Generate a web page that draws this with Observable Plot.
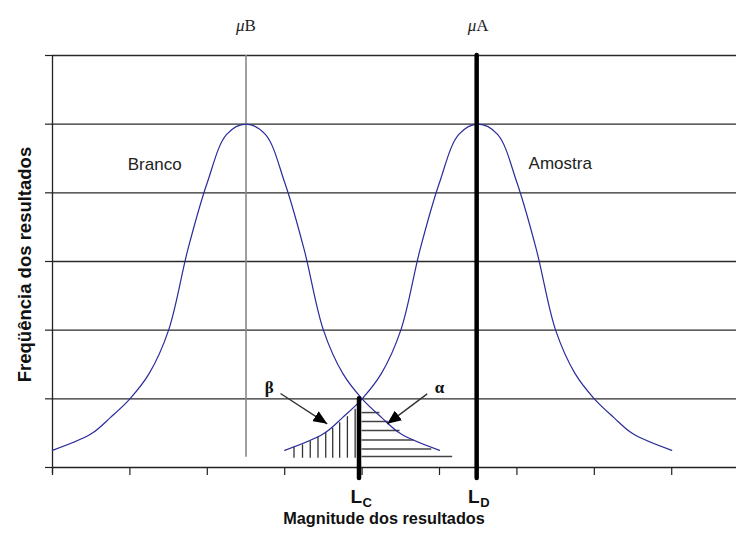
<!DOCTYPE html>
<html><head><meta charset="utf-8">
<script src="https://cdn.jsdelivr.net/npm/d3@7"></script>
<script src="https://cdn.jsdelivr.net/npm/@observablehq/plot@0.6"></script>
<style>body{margin:0;background:#fff}</style>
</head><body><div id="chart"></div>
<script>
// Curve data
const brancoX = [0, 0.5, 0.75, 1.0, 1.25, 1.5, 1.75, 2.0, 2.25, 2.5, 2.75, 3.0, 3.25, 3.5, 3.75, 4.0, 4.25, 4.5, 5.0];
const brancoY = [0.25, 0.49, 0.73, 1.0, 1.37, 2.0, 3.18, 4.15, 4.85, 5.0, 4.85, 4.15, 3.18, 2.0, 1.37, 1.0, 0.73, 0.49, 0.25];
const amostraX = [3.0, 3.5, 3.75, 4.0, 4.25, 4.5, 4.75, 5.0, 5.25, 5.5, 5.75, 6.0, 6.25, 6.5, 6.75, 7.0, 7.25, 7.5, 8.0];
const amostraY = [0.25, 0.49, 0.73, 1.0, 1.37, 2.0, 3.18, 4.15, 4.85, 5.0, 4.85, 4.15, 3.18, 2.0, 1.37, 1.0, 0.73, 0.49, 0.25];

// Reference positions
const muB = 2.5, muA = 5.5, LC = 3.96, LD = 5.48;

// Hatching (beta: vertical, alpha: horizontal)
const betaX = [3.12, 3.23, 3.33, 3.43, 3.53, 3.62, 3.71, 3.81, 3.91];
const betaTop = [0.30, 0.33, 0.38, 0.44, 0.51, 0.57, 0.65, 0.74, 0.85];
const alphaY = [0.80, 0.67, 0.54, 0.40, 0.27, 0.16];
const alphaEnd = [4.23, 4.34, 4.49, 4.67, 4.90, 5.17];

// Axes
const xTicks = [0, 1, 2, 3, 4, 5, 6, 7, 8];
const yTicks = [0, 1, 2, 3, 4, 5, 6];
const gridY = [1, 2, 3, 4, 5, 6];

// Texts
const muLabels = ["\u03bcB", "\u03bcA"];
const muX = [muB, muA];
const curveNames = ["Branco", "Amostra"];
const curveNameX = [1.32, 6.56];
const curveNameY = [4.335, 4.35];
const greek = ["\u03b2", "\u03b1"];
const greekX = [2.8, 5.0];
const greekY = [1.09, 1.09];
const limitMain = ["L", "L"];
const limitSub = ["C", "D"];
const limitX = [LC, LD];
const xLabel = "Magnitude dos resultados";
const yLabel = "Freq\u00fc\u00eancia dos resultados";

// Arrows
const arrowX1 = [2.946, 4.841];
const arrowY1 = [1.078, 1.073];
const arrowX2 = [3.549, 4.324];
const arrowY2 = [0.636, 0.636];

function triMarker(color, context) {
  const doc = context.document;
  const ns = "http://www.w3.org/2000/svg";
  const m = doc.createElementNS(ns, "marker");
  m.setAttribute("viewBox", "0 -6 14 12");
  m.setAttribute("markerWidth", "14");
  m.setAttribute("markerHeight", "12");
  m.setAttribute("markerUnits", "userSpaceOnUse");
  m.setAttribute("refX", "14");
  m.setAttribute("refY", "0");
  m.setAttribute("orient", "auto");
  const p = doc.createElementNS(ns, "path");
  p.setAttribute("d", "M0,-6L14,0L0,6Z");
  p.setAttribute("fill", "#000");
  p.setAttribute("stroke", "none");
  m.appendChild(p);
  return m;
}

const blue = "#2b2b9c";

const chart = Plot.plot({
  width: 736, height: 533,
  marginLeft: 52, marginRight: 0, marginTop: 55, marginBottom: 66,
  x: {domain: [0, 8.837]},
  y: {domain: [0, 6]},
  style: {fontFamily: "Liberation Sans", background: "white", overflow: "visible"},
  marks: [
    Plot.ruleY(gridY, {stroke: "#2a2a2a", strokeWidth: 1.3}),
    Plot.axisX({ticks: xTicks, tickSize: 8, tickFormat: () => "", label: null, stroke: "#222", strokeWidth: 1.2}),
    Plot.axisY({ticks: yTicks, tickSize: 7, tickFormat: () => "", label: null, stroke: "#222", strokeWidth: 1.2}),
    Plot.ruleY([0], {stroke: "#222", strokeWidth: 1.3}),
    Plot.ruleX([0], {y1: -0.09, y2: 6, stroke: "#222", strokeWidth: 1.3}),
    Plot.ruleX(betaX, {x: d => d, y1: 0.135, y2: (d, i) => betaTop[i], stroke: "#333", strokeWidth: 1.3}),
    Plot.ruleY(alphaY, {y: d => d, x1: 4.0, x2: (d, i) => alphaEnd[i], stroke: "#444", strokeWidth: 1.5}),
    Plot.ruleX([muB], {y1: 0.15, y2: 6, stroke: "#888", strokeWidth: 1.6}),
    Plot.line(brancoX, {x: d => d, y: (d, i) => brancoY[i], curve: "catmull-rom", stroke: blue, strokeWidth: 1.2}),
    Plot.line(amostraX, {x: d => d, y: (d, i) => amostraY[i], curve: "catmull-rom", stroke: blue, strokeWidth: 1.2}),
    Plot.ruleX([LC], {y1: -0.16, y2: 1.0, stroke: "#000", strokeWidth: 4.5, strokeLinecap: "round"}),
    Plot.ruleX([LD], {y1: -0.16, y2: 6, stroke: "#000", strokeWidth: 4.5, strokeLinecap: "round"}),
    Plot.link(arrowX1, {x1: d => d, y1: (d, i) => arrowY1[i], x2: (d, i) => arrowX2[i], y2: (d, i) => arrowY2[i], stroke: "#333", strokeWidth: 1.4, markerEnd: triMarker}),
    Plot.text(muLabels, {x: (d, i) => muX[i], text: d => d, frameAnchor: "top", dy: -25, lineAnchor: "bottom", fontFamily: "Liberation Serif", fontSize: 17, fill: "#222"}),
    Plot.text(curveNames, {x: (d, i) => curveNameX[i], y: (d, i) => curveNameY[i], text: d => d, lineAnchor: "bottom", fontSize: 17, fill: "#222"}),
    Plot.text(greek, {x: (d, i) => greekX[i], y: (d, i) => greekY[i], text: d => d, lineAnchor: "bottom", fontFamily: "Liberation Serif", fontWeight: "bold", fontSize: 17, fill: "#111"}),
    Plot.text(limitMain, {x: (d, i) => limitX[i], text: d => d, frameAnchor: "bottom", dy: 35, dx: 3, textAnchor: "end", lineAnchor: "bottom", fontWeight: "bold", fontSize: 19, fill: "#111"}),
    Plot.text(limitSub, {x: (d, i) => limitX[i], text: d => d, frameAnchor: "bottom", dy: 39, dx: 3.5, textAnchor: "start", lineAnchor: "bottom", fontWeight: "bold", fontSize: 13, fill: "#111"}),
    Plot.text([xLabel], {text: d => d, frameAnchor: "bottom", textAnchor: "middle", dx: -10.5, dy: 56, fontWeight: "bold", fontSize: 16.3, fill: "#111"}),
    Plot.text([yLabel], {text: d => d, frameAnchor: "left", textAnchor: "middle", dx: -27, dy: 3, rotate: -90, fontWeight: "bold", fontSize: 18.5, fill: "#111"})
  ]
});
// italic mu, as in the reference
d3.select(chart).selectAll("text").filter(function () { return this.textContent.startsWith("\u03bc"); })
  .each(function () {
    const t = this.textContent;
    this.textContent = "";
    d3.select(this).append("tspan").attr("font-style", "italic").text(t.slice(0, 1));
    d3.select(this).append("tspan").text(t.slice(1));
  });
document.getElementById("chart").appendChild(chart);
</script>
</body></html>
